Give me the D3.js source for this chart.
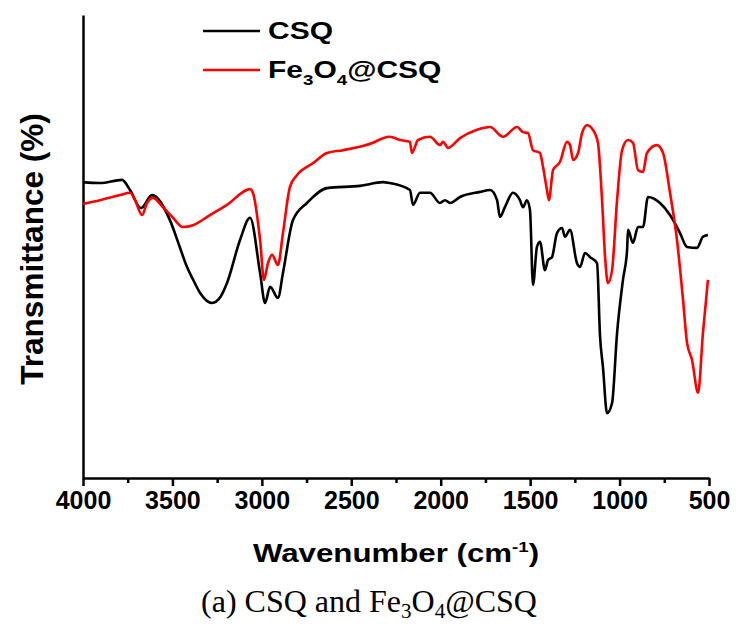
<!DOCTYPE html>
<html>
<head>
<meta charset="utf-8">
<script src="https://cdn.jsdelivr.net/npm/d3@7"></script>
<style>
  body { margin: 0; background: #fff; }
  svg { display: block; }
</style>
</head>
<body>
<script>
// FTIR spectra (wavenumber in cm-1, transmittance in arbitrary %)
var wnCSQ = [4000, 3905, 3782, 3737, 3676, 3614, 3514, 3460, 3419, 3380, 3346, 3279, 3230, 3195, 3122, 3066, 3010, 2982, 2954, 2910, 2882, 2826, 2748, 2636, 2451, 2323, 2284, 2172, 2155, 2116, 2060, 2004, 1976, 1948, 1892, 1780, 1724, 1685, 1669, 1641, 1596, 1557, 1540, 1518, 1501, 1484, 1462, 1445, 1417, 1400, 1378, 1350, 1322, 1305, 1277, 1238, 1221, 1193, 1165, 1126, 1109, 1093, 1070, 1042, 1014, 981, 958, 953, 925, 897, 869, 841, 774, 718, 662, 623, 567, 534, 506];
var tCSQ = [63.9, 63.7, 64.4, 62.2, 58.3, 61.1, 55.7, 50.0, 45.6, 42.5, 40.0, 37.8, 39.2, 42.1, 51.4, 56.2, 44.3, 37.8, 41.3, 38.9, 44.3, 55.7, 59.4, 62.6, 63.1, 63.9, 63.7, 62.2, 59.0, 61.6, 61.6, 59.4, 60.0, 59.4, 60.7, 61.8, 62.2, 60.0, 56.4, 58.5, 61.6, 60.0, 58.5, 60.0, 57.9, 41.7, 49.9, 51.0, 44.9, 47.1, 47.7, 52.9, 54.0, 52.1, 53.6, 46.4, 45.6, 48.6, 47.7, 46.4, 30.5, 24.0, 14.0, 16.2, 31.3, 42.8, 49.2, 53.6, 50.8, 54.2, 54.2, 60.7, 59.4, 56.8, 52.9, 49.9, 49.7, 52.1, 52.5];

var wnFe = [4000, 3905, 3793, 3737, 3709, 3670, 3642, 3609, 3553, 3497, 3441, 3385, 3290, 3195, 3066, 3050, 3010, 2988, 2966, 2943, 2910, 2882, 2843, 2804, 2714, 2636, 2546, 2379, 2323, 2284, 2228, 2172, 2161, 2127, 2060, 2004, 1987, 1959, 1892, 1797, 1724, 1652, 1573, 1540, 1512, 1484, 1445, 1428, 1406, 1395, 1372, 1333, 1294, 1277, 1260, 1232, 1210, 1182, 1149, 1121, 1098, 1081, 1065, 1042, 1014, 986, 953, 925, 897, 869, 847, 791, 757, 718, 679, 645, 623, 595, 561, 534, 506];
var tFe = [59.2, 60.0, 61.1, 61.6, 60.0, 56.8, 59.4, 60.5, 58.5, 56.2, 54.2, 54.6, 56.8, 59.0, 62.4, 61.6, 51.4, 42.8, 46.4, 48.2, 46.0, 52.9, 62.9, 65.4, 68.0, 70.2, 70.8, 72.4, 73.4, 73.7, 73.0, 72.6, 70.2, 73.0, 73.7, 71.9, 72.6, 71.3, 73.4, 75.2, 75.8, 73.7, 75.8, 74.7, 74.5, 70.8, 70.2, 67.2, 62.2, 60.0, 66.5, 68.3, 72.6, 71.9, 68.7, 70.2, 74.5, 76.2, 75.2, 72.4, 60.0, 47.7, 42.1, 44.9, 60.0, 70.8, 73.0, 72.4, 66.5, 66.1, 70.2, 71.9, 70.2, 61.6, 51.4, 38.4, 29.2, 25.5, 18.4, 31.3, 42.8];

var majorTicks = [4000, 3500, 3000, 2500, 2000, 1500, 1000, 500];
var minorTicks = [3750, 3250, 2750, 2250, 1750, 1250, 750];

var svg = d3.select("body").append("svg")
    .attr("width", 741)
    .attr("height", 630);

var x = d3.scaleLinear().domain([4000, 500]).range([83, 709]);
var y = d3.scaleLinear().domain([0, 100]).range([478, 15]);

// minor ticks first, then the labelled axis on top
svg.append("g")
    .attr("transform", "translate(0,478)")
    .call(d3.axisBottom(x).tickValues(minorTicks).tickSize(5).tickSizeOuter(0).tickFormat(""))
    .call(function(g){ g.select(".domain").remove(); })
    .selectAll("line").attr("stroke", "#000").attr("stroke-width", 2.5);

var xAxis = svg.append("g")
    .attr("transform", "translate(0,478)")
    .call(d3.axisBottom(x).tickValues(majorTicks).tickSize(8).tickSizeOuter(0).tickPadding(5).tickFormat(d3.format("d")));
xAxis.select(".domain").attr("stroke", "#000").attr("stroke-width", 2.5);
xAxis.selectAll("line").attr("stroke", "#000").attr("stroke-width", 2.5);
xAxis.selectAll("text")
    .attr("fill", "#000")
    .style("font-family", "Liberation Sans, Arial, sans-serif")
    .style("font-weight", "bold")
    .style("font-size", "25px");

var yAxis = svg.append("g")
    .attr("transform", "translate(83,0)")
    .call(d3.axisLeft(y).tickValues([]).tickSizeOuter(0));
yAxis.select(".domain").attr("stroke", "#000").attr("stroke-width", 2.5);

var line = d3.line()
    .curve(d3.curveMonotoneX)
    .x(function(d){ return x(d[0]); })
    .y(function(d){ return y(d[1]); });

var series = [
    {name: "CSQ", color: "#000", data: d3.zip(wnCSQ, tCSQ)},
    {name: "Fe3O4@CSQ", color: "#f00", data: d3.zip(wnFe, tFe)}
];

svg.selectAll("path.spec")
    .data(series)
    .enter().append("path")
    .attr("class", "spec")
    .attr("d", function(d){ return line(d.data); })
    .attr("fill", "none")
    .attr("stroke", function(d){ return d.color; })
    .attr("stroke-width", 2.6)
    .attr("stroke-linejoin", "round");

// legend
var legend = svg.selectAll("g.leg")
    .data(series)
    .enter().append("g")
    .attr("class", "leg")
    .attr("transform", function(d, i){ return "translate(203," + (31 + i * 39) + ")"; });

legend.append("line")
    .attr("x1", 0).attr("x2", 57)
    .attr("stroke", function(d){ return d.color; })
    .attr("stroke-width", 2.5);

// text in the figure is drawn a little wide, so stretch it horizontally
var legText = legend.append("text")
    .attr("transform", "translate(65,8) scale(1.25,1)")
    .style("font-family", "Liberation Sans, Arial, sans-serif")
    .style("font-weight", "bold")
    .style("font-size", "24px");

legText.filter(function(d, i){ return i == 0; }).text("CSQ");
var fe = legText.filter(function(d, i){ return i == 1; });
fe.append("tspan").text("Fe");
fe.append("tspan").text("3").attr("dy", 7).style("font-size", "15px");
fe.append("tspan").text("O").attr("dy", -7);
fe.append("tspan").text("4").attr("dy", 7).style("font-size", "15px");
fe.append("tspan").text("@CSQ").attr("dy", -7);

// axis titles
var xTitle = svg.append("text")
    .attr("transform", "translate(396,562) scale(1.25,1)")
    .attr("text-anchor", "middle")
    .style("font-family", "Liberation Sans, Arial, sans-serif")
    .style("font-weight", "bold")
    .style("font-size", "25px");
xTitle.append("tspan").text("Wavenumber (cm");
xTitle.append("tspan").text("-1").attr("dy", -10).style("font-size", "15px");
xTitle.append("tspan").text(")").attr("dy", 10);

svg.append("text")
    .attr("transform", "translate(43,249) rotate(-90)")
    .attr("text-anchor", "middle")
    .style("font-family", "Liberation Sans, Arial, sans-serif")
    .style("font-weight", "bold")
    .style("font-size", "31.5px")
    .text("Transmittance (%)");

// caption under the figure
var cap = svg.append("text")
    .attr("x", 369).attr("y", 612)
    .attr("text-anchor", "middle")
    .style("font-family", "Liberation Serif, Times New Roman, serif")
    .style("font-size", "32px");
cap.append("tspan").text("(a) CSQ and Fe");
cap.append("tspan").text("3").attr("dy", 6).style("font-size", "21px");
cap.append("tspan").text("O").attr("dy", -6);
cap.append("tspan").text("4").attr("dy", 6).style("font-size", "21px");
cap.append("tspan").text("@CSQ").attr("dy", -6);
</script>
</body>
</html>
